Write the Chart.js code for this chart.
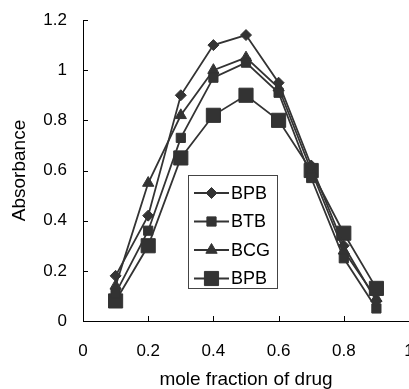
<!DOCTYPE html>
<html>
<head>
<meta charset="utf-8">
<script src="https://cdn.jsdelivr.net/npm/chart.js@4"></script>
<style>
  html, body { margin: 0; padding: 0; background: #fff; overflow: hidden; }
  #wrap { width: 409px; height: 389px; overflow: hidden; }
</style>
</head>
<body>
<div id="wrap"><canvas id="chart" width="430" height="389"></canvas></div>
<script>
// mole fraction values
const fractions = [0.1, 0.2, 0.3, 0.4, 0.5, 0.6, 0.7, 0.8, 0.9];

// absorbance series
const bpb1 = [0.18, 0.42, 0.90, 1.10, 1.14, 0.95, 0.62, 0.30, 0.08];
const btb  = [0.11, 0.36, 0.73, 0.97, 1.03, 0.91, 0.57, 0.25, 0.05];
const bcg  = [0.14, 0.55, 0.82, 1.00, 1.05, 0.93, 0.60, 0.28, 0.09];
const bpb2 = [0.08, 0.30, 0.65, 0.82, 0.90, 0.80, 0.60, 0.35, 0.13];

const seriesNames = ["BPB", "BTB", "BCG", "BPB"];

// axis ticks
const xTicks = [0, 0.2, 0.4, 0.6, 0.8, 1];
const yTicks = [0, 0.2, 0.4, 0.6, 0.8, 1, 1.2];

const ink = "#333333";
const font = "'Liberation Sans', Arial, sans-serif";

function points(values) {
  return values.map((v, i) => ({ x: fractions[i], y: v }));
}

function makeSet(label, values, style, radius) {
  return {
    label: label,
    data: points(values),
    borderColor: ink,
    backgroundColor: ink,
    borderWidth: 1.8,
    pointStyle: style,
    pointRadius: radius,
    pointBorderWidth: 1,
    pointBorderColor: ink,
    pointBackgroundColor: ink,
    tension: 0,
    clip: false
  };
}

// inward tick marks on both axes
const innerTicks = {
  id: "innerTicks",
  afterDatasetsDraw(chart) {
    const { ctx, chartArea, scales } = chart;
    ctx.save();
    ctx.strokeStyle = "#000";
    ctx.lineWidth = 1;
    xTicks.forEach(v => {
      const px = Math.round(scales.x.getPixelForValue(v)) + 0.5;
      ctx.beginPath();
      ctx.moveTo(px, chartArea.bottom);
      ctx.lineTo(px, chartArea.bottom - 5);
      ctx.stroke();
    });
    yTicks.forEach(v => {
      const py = Math.round(scales.y.getPixelForValue(v)) + 0.5;
      ctx.beginPath();
      ctx.moveTo(chartArea.left, py);
      ctx.lineTo(chartArea.left + 5, py);
      ctx.stroke();
    });
    ctx.restore();
  }
};

// boxed legend inside the plot
const boxLegend = {
  id: "boxLegend",
  afterDatasetsDraw(chart) {
    const ctx = chart.ctx;
    const left = 188, top = 175, w = 89, h = 113;
    ctx.save();
    ctx.fillStyle = "#fff";
    ctx.fillRect(left, top, w, h);
    ctx.strokeStyle = "#444";
    ctx.lineWidth = 1;
    ctx.strokeRect(left + 0.5, top + 0.5, w, h);
    chart.data.datasets.forEach((ds, i) => {
      const cy = top + 18 + i * 28.5;
      ctx.strokeStyle = ink;
      ctx.lineWidth = 1.8;
      ctx.beginPath();
      ctx.moveTo(194, cy);
      ctx.lineTo(229, cy);
      ctx.stroke();
      ctx.fillStyle = ink;
      ctx.strokeStyle = ink;
      ctx.lineWidth = 1;
      Chart.helpers.drawPoint(ctx, { pointStyle: ds.pointStyle, radius: ds.pointRadius, borderWidth: 1 }, 211.5, cy);
      ctx.fillStyle = "#000";
      ctx.font = "18px " + font;
      ctx.textBaseline = "middle";
      ctx.fillText(ds.label, 231, cy + 1);
    });
    ctx.restore();
  }
};

new Chart(document.getElementById("chart"), {
  type: "line",
  data: {
    datasets: [
      makeSet(seriesNames[0], bpb1, "rectRot", 5.5),
      makeSet(seriesNames[1], btb, "rect", 6.5),
      makeSet(seriesNames[2], bcg, "triangle", 6.5),
      makeSet(seriesNames[3], bpb2, "rect", 10)
    ]
  },
  options: {
    responsive: false,
    animation: false,
    devicePixelRatio: 1,
    layout: { autoPadding: false, padding: { top: 20, right: 21, left: 0, bottom: 0 } },
    plugins: {
      legend: { display: false },
      tooltip: { enabled: false }
    },
    scales: {
      x: {
        type: "linear",
        min: 0,
        max: 1,
        afterFit: s => { s.height = 68; s.paddingLeft = 0; s.paddingRight = 0; },
        afterBuildTicks: s => { s.ticks = xTicks.map(v => ({ value: v })); },
        grid: { display: true, drawOnChartArea: false, drawTicks: false },
        border: { color: "#000", width: 1 },
        ticks: {
          color: "#000",
          padding: 20,
          maxRotation: 0,
          font: { family: font, size: 17 },
          callback: v => String(v)
        },
        title: {
          display: true,
          text: "mole fraction of drug",
          color: "#000",
          font: { family: font, size: 19, lineHeight: 1 },
          padding: { top: 0, bottom: 0 }
        }
      },
      y: {
        min: 0,
        max: 1.2,
        afterFit: s => { s.width = 83; s.paddingTop = 0; s.paddingBottom = 0; },
        afterBuildTicks: s => { s.ticks = yTicks.map(v => ({ value: v })); },
        grid: { display: true, drawOnChartArea: false, drawTicks: false },
        border: { color: "#000", width: 1 },
        ticks: {
          color: "#000",
          padding: 16,
          font: { family: font, size: 17 },
          callback: v => String(v)
        },
        title: {
          display: true,
          text: "Absorbance",
          color: "#000",
          font: { family: font, size: 19, lineHeight: 1 },
          padding: { top: 10, bottom: 10 }
        }
      }
    }
  },
  plugins: [innerTicks, boxLegend]
});
</script>
</body>
</html>
